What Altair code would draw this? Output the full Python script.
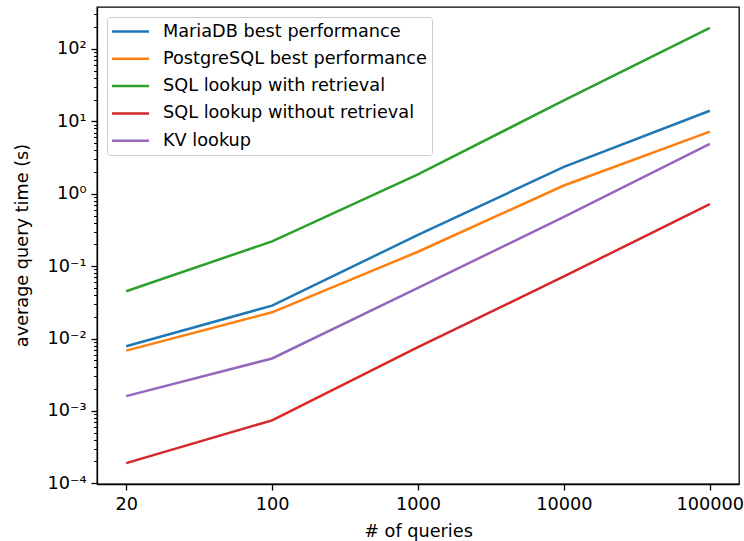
import altair as alt
import pandas as pd

# ---- data ----
queries = ["20", "100", "1000", "10000", "100000"]
series_names = [
    "MariaDB best performance",
    "PostgreSQL best performance",
    "SQL lookup with retrieval",
    "SQL lookup without retrieval",
    "KV lookup",
]
mariadb = [0.0078, 0.0285, 0.27, 2.35, 14.0]
postgres = [0.0068, 0.023, 0.158, 1.3, 7.2]
sql_with = [0.045, 0.22, 1.85, 19.5, 196.0]
sql_without = [0.00019, 0.00074, 0.0076, 0.072, 0.72]
kv = [0.0016, 0.0053, 0.050, 0.48, 4.9]
colors = ["#1f77b4", "#ff7f0e", "#2ca02c", "#d62728", "#9467bd"]

major_ticks = [1e-4, 1e-3, 1e-2, 1e-1, 1e0, 1e1, 1e2]
major_labels = ["10⁻⁴", "10⁻³", "10⁻²", "10⁻¹", "10⁰", "10¹", "10²"]
minor_ticks = [m * 10.0 ** e for e in range(-4, 3) for m in range(2, 10)]

values = [mariadb, postgres, sql_with, sql_without, kv]
rows = []
for name, vals in zip(series_names, values):
    for q, v in zip(queries, vals):
        rows.append({"queries": q, "time": v, "series": name})
df = pd.DataFrame(rows)

FONT = "DejaVu Sans"
FS = 17.7

label_list = "[" + ",".join("'" + l + "'" for l in major_labels) + "]"
label_expr = f"{label_list}[round(log(datum.value)/LN10)+4]"

yscale = alt.Scale(type="log", domain=[10 ** -4.01, 10 ** 2.58], nice=False)

x_enc = alt.X(
    "queries:O",
    sort=queries,
    scale=alt.Scale(type="point", padding=0.2),
    axis=alt.Axis(
        title="# of queries",
        labelAngle=0,
        labelFontSize=FS,
        titleFontSize=FS,
        labelFont=FONT,
        titleFont=FONT,
        titleFontWeight="normal",
        labelColor="black",
        titleColor="black",
        tickColor="black",
        domainColor="black",
        tickSize=6,
        tickWidth=1.3,
        domainWidth=1.3,
        labelPadding=5,
        titlePadding=10,
        grid=False,
    ),
)

lines = alt.Chart(df).mark_line(strokeWidth=2.5).encode(
    x=x_enc,
    y=alt.Y(
        "time:Q",
        scale=yscale,
        axis=alt.Axis(
            title="average query time (s)",
            values=major_ticks,
            labelExpr=label_expr,
            labelFontSize=FS,
            titleFontSize=FS,
            labelFont=FONT,
            titleFont=FONT,
            titleFontWeight="normal",
            labelColor="black",
            titleColor="black",
            tickColor="black",
            domainColor="black",
            tickSize=6,
            tickWidth=1.3,
            domainWidth=1.3,
            labelPadding=5,
            grid=False,
            titleX=-75,
            titleY=238,
            titleAngle=270,
            titleBaseline="middle",
            titleAlign="center",
        ),
    ),
    color=alt.Color(
        "series:N",
        sort=series_names,
        scale=alt.Scale(domain=series_names, range=colors),
        legend=alt.Legend(
            title=None,
            orient="none",
            legendX=10,
            legendY=10,
            symbolType="M-1.19,0H3.44",
            symbolSize=256,
            symbolStrokeWidth=2.5,
            symbolFillColor="transparent",
            labelFontSize=FS,
            labelFont=FONT,
            labelColor="black",
            labelOffset=32,
            rowPadding=8.3,
            padding=5,
            fillColor="rgba(255,255,255,0.8)",
            strokeColor="#cccccc",
            cornerRadius=3,
            labelLimit=400,
        ),
    ),
)

minor = alt.Chart(df).mark_line(opacity=0).encode(
    x=alt.X("queries:O", sort=queries, scale=alt.Scale(type="point", padding=0.2)),
    y=alt.Y(
        "time:Q",
        scale=yscale,
        axis=alt.Axis(
            title=None,
            values=minor_ticks,
            labels=False,
            domain=False,
            tickColor="black",
            tickSize=3.5,
            tickWidth=1.0,
            grid=False,
            orient="left",
        ),
    ),
)

chart = (
    alt.layer(lines, minor)
    .resolve_axis(y="independent")
    .properties(
        width=642,
        height=477,
        autosize=alt.AutoSizeParams(type="none"),
        padding={"left": 97, "top": 7, "right": 5, "bottom": 57},
        background="white",
    )
    .configure_view(stroke="black", strokeWidth=1.3)
)

chart.save("out.html", embed_options={"renderer": "svg", "actions": False})
